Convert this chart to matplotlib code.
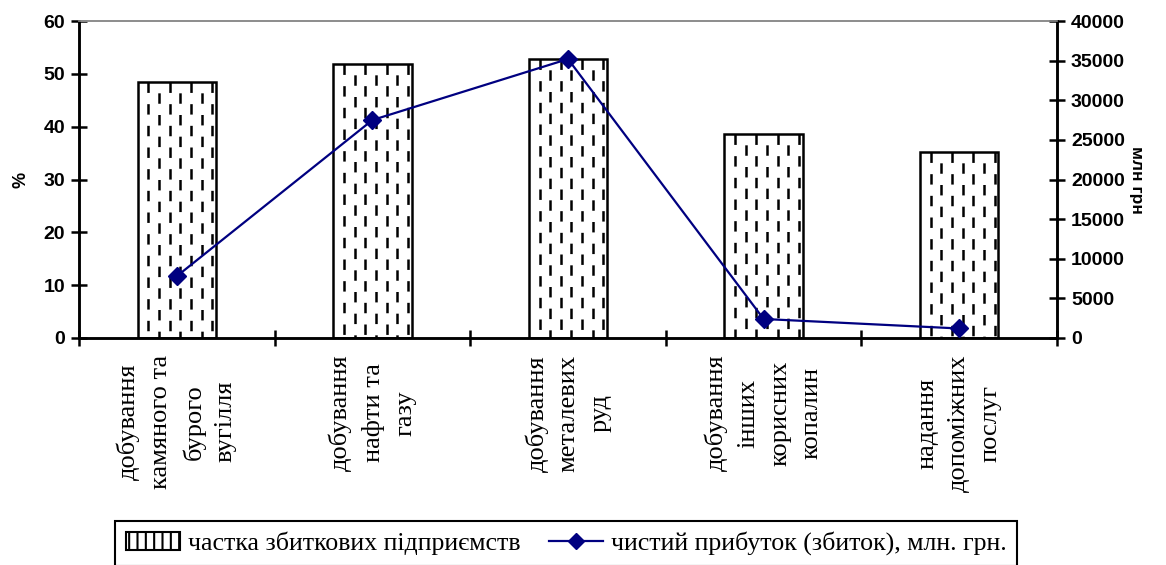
import numpy as np
import matplotlib
matplotlib.use("Agg")
import matplotlib.pyplot as plt
from matplotlib.patches import Patch
from matplotlib.lines import Line2D

plt.rcParams['lines.scale_dashes'] = False
plt.rcParams['hatch.linewidth'] = 1.5

categories = [
    "добування\nкамяного та\nбурого\nвугілля",
    "добування\nнафти та\nгазу",
    "добування\nметалевих\nруд",
    "добування\nінших\nкорисних\nкопалин",
    "надання\nдопоміжних\nпослуг",
]
share_loss = [48.5, 51.9, 52.8, 38.6, 35.2]          # %
net_profit = [7800, 27500, 35200, 2400, 1200]        # млн грн

left_ticks = [0, 10, 20, 30, 40, 50, 60]
right_ticks = [0, 5000, 10000, 15000, 20000, 25000, 30000, 35000, 40000]

fig = plt.figure(figsize=(11.66, 5.65), dpi=100)
ax = fig.add_axes([79/1166, 1-338/565, (1057-79)/1166, (338-21)/565])
ax2 = ax.twinx()

x = np.arange(len(categories))
bars = ax.bar(x, share_loss, width=0.4, facecolor="white", edgecolor="black",
              linewidth=1.8, zorder=2)

# dashed vertical fill pattern inside each bar
for rect in bars:
    x0, w, h = rect.get_x(), rect.get_width(), rect.get_height()
    ncol = 7
    for k in range(ncol):
        xc = x0 + (k + 1) * w / (ncol + 0.35)
        off = 0 if k % 2 == 0 else 7.8
        ln, = ax.plot([xc, xc], [h, 0], color="black", lw=1.8,
                      linestyle=(off, (7.5, 8.1)), zorder=3,
                      dash_capstyle="butt")
        ln.set_clip_path(rect)

ax.set_xlim(-0.5, len(categories) - 0.5)
ax.set_ylim(0, 60)
ax.set_yticks(left_ticks)
ax2.set_ylim(0, 40000)
ax2.set_yticks(right_ticks)

ax2.plot(x, net_profit, color="#000080", lw=1.6, marker="D", markersize=9,
         markerfacecolor="#000080", markeredgecolor="#000080", zorder=5)

# x ticks: category labels, tick marks at boundaries
ax.set_xticks(x)
ax.set_xticklabels(categories, rotation=90, ha="center", va="top",
                   multialignment="center", family="Liberation Serif",
                   fontsize=19, linespacing=1.55)
ax.tick_params(axis="x", which="major", length=0, pad=12)
ax.set_xticks(np.arange(-0.5, len(categories) + 0.5, 1), minor=True)
ax.tick_params(axis="x", which="minor", direction="inout", length=12, width=1.8)

for a in (ax, ax2):
    for lab in a.get_yticklabels():
        lab.set_fontweight("bold")
        lab.set_family("Liberation Sans")
    a.tick_params(axis="y", direction="inout", length=12, width=1.8,
                  labelsize=14, pad=4)
    for s in ("left", "right", "bottom"):
        a.spines[s].set_linewidth(1.8)
        a.spines[s].set_color("black")
    a.spines["top"].set_color("#8c8c8c")
    a.spines["top"].set_linewidth(1.2)

ax.set_ylabel("%", fontsize=13, fontweight="bold", family="Liberation Sans",
              labelpad=10)
ax2.set_ylabel("млн грн", fontsize=12.5, fontweight="bold",
               family="Liberation Sans", rotation=270, labelpad=14)

handles = [
    Patch(facecolor="white", edgecolor="black", hatch="||", linewidth=1.5),
    Line2D([0], [0], color="#000080", lw=1.6, marker="D", markersize=8,
           markerfacecolor="#000080"),
]
labels = ["частка збиткових підприємств", "чистий прибуток (збиток), млн. грн."]
leg = fig.legend(handles, labels, loc="upper center",
                 bbox_to_anchor=(566/1166, 1-521/565), ncol=2, frameon=True,
                 fancybox=False, edgecolor="black", framealpha=1,
                 prop={"family": "Liberation Serif", "size": 18.6},
                 handlelength=2.1, handleheight=0.7, handletextpad=0.3,
                 columnspacing=1.1, borderpad=0.4, borderaxespad=0)
leg.get_frame().set_linewidth(1.5)

fig.savefig("out.png", dpi=100)
